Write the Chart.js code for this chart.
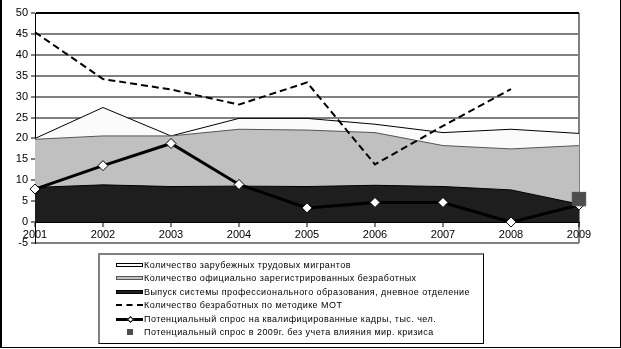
<!DOCTYPE html>
<html>
<head>
<meta charset="utf-8">
<script src="https://cdn.jsdelivr.net/npm/chart.js@4.4.0/dist/chart.umd.min.js"></script>
<style>
    body { margin: 0; background: #fff; font-family: "Liberation Sans", Arial, sans-serif; }
    #wrap { position: relative; width: 621px; height: 349px; }
    #frame { position: absolute; left: 0; top: 0; width: 618px; height: 347px;
             border-left: 2px solid #000; border-right: 1px solid #000; border-bottom: 1px solid #000; }
    #legend { position: absolute; left: 98px; top: 253px; width: 383px; height: 88px;
              border-left: 2px solid #808080; border-top: 2px solid #808080;
              border-right: 1px solid #000; border-bottom: 1px solid #000; }
    .item { position: absolute; left: 44px; height: 12px; font-size: 9px; letter-spacing: 0.45px;
            line-height: 12px; white-space: nowrap; color: #000; }
    .sw { position: absolute; left: -28px; top: 4px; width: 27px; height: 4px; box-sizing: border-box; }
    .txt { position: absolute; left: 0; top: 0; }
</style>
</head>
<body>
<div id="wrap">
    <canvas id="chart" width="621" height="349"></canvas>
    <div id="frame"></div>
    <div id="legend"></div>
</div>
<script>
const years = ['2001', '2002', '2003', '2004', '2005', '2006', '2007', '2008', '2009'];
const migrants = [20.0, 27.4, 20.6, 24.8, 24.8, 23.4, 21.4, 22.2, 21.2];
const registered = [19.8, 20.6, 20.6, 22.2, 22.0, 21.4, 18.3, 17.5, 18.3];
const graduates = [8.3, 8.9, 8.5, 8.6, 8.5, 8.8, 8.5, 7.7, 4.3];
const iloUnemployed = [45.4, 34.2, 31.7, 28.1, 33.4, 13.8, 23.0, 31.8, null];
const demand = [7.9, 13.5, 18.8, 9.0, 3.4, 4.7, 4.7, 0.0, 4.1];
const demandNoCrisis = [null, null, null, null, null, null, null, null, 5.5];

const labels = [
    'Количество зарубежных трудовых мигрантов',
    'Количество официально зарегистрированных безработных',
    'Выпуск системы профессионального образования, дневное отделение',
    'Количество безработных по методике МОТ',
    'Потенциальный спрос на квалифицированные кадры, тыс. чел.',
    'Потенциальный спрос в 2009г. без учета влияния мир. кризиса'
];

const font = { family: '"Liberation Sans", Arial, sans-serif', size: 11 };

new Chart(document.getElementById('chart'), {
    type: 'line',
    data: {
        labels: years,
        datasets: [
            {
                label: labels[0],
                data: migrants,
                fill: 'origin',
                backgroundColor: '#fbfbfb',
                borderColor: '#000',
                borderWidth: 1,
                pointRadius: 0,
                order: 6
            },
            {
                label: labels[1],
                data: registered,
                fill: 'origin',
                backgroundColor: '#c0c0c0',
                borderColor: '#555',
                borderWidth: 1,
                pointRadius: 0,
                order: 5
            },
            {
                label: labels[2],
                data: graduates,
                fill: 'origin',
                backgroundColor: '#1e1e1e',
                borderColor: '#000',
                borderWidth: 1,
                pointRadius: 0,
                order: 4
            },
            {
                label: labels[3],
                data: iloUnemployed,
                borderColor: '#000',
                borderWidth: 2,
                borderDash: [7, 4],
                pointRadius: 0,
                fill: false,
                order: 3
            },
            {
                label: labels[4],
                data: demand,
                borderColor: '#000',
                borderWidth: 3,
                pointStyle: 'rectRot',
                pointRadius: 5,
                pointBackgroundColor: '#fff',
                pointBorderColor: '#000',
                pointBorderWidth: 1,
                fill: false,
                order: 2
            },
            {
                label: labels[5],
                data: demandNoCrisis,
                showLine: false,
                pointStyle: 'rect',
                pointRadius: 9.5,
                pointBackgroundColor: '#4d4d4d',
                pointBorderColor: '#4d4d4d',
                order: 1
            }
        ]
    },
    options: {
        responsive: false,
        animation: false,
        layout: { padding: { left: 0, top: 13, right: 42, bottom: 106 } },
        plugins: {
            legend: { display: false },
            tooltip: { enabled: false }
        },
        scales: {
            x: {
                position: { y: 0 },
                offset: false,
                grid: {
                    color: ctx => ctx.index === years.length - 1 ? '#808080' : 'rgba(0,0,0,0)',
                    lineWidth: 2,
                    tickColor: '#000',
                    tickWidth: 1,
                    tickLength: 4
                },
                border: { display: true, color: '#000', width: 1 },
                ticks: { color: '#000', font: font, padding: 2, maxRotation: 0 }
            },
            y: {
                min: -5,
                max: 50,
                afterFit: scale => { scale.width = 35; },
                ticks: { stepSize: 5, color: '#000', font: font, padding: 3 },
                grid: {
                    color: ctx => ctx.tick.value === 50 ? '#000' : '#808080',
                    lineWidth: 2,
                    tickColor: '#000',
                    tickWidth: 1,
                    tickLength: 4
                },
                border: { display: true, color: '#000', width: 1 }
            }
        }
    }
});

// legend built as html, one entry per row like the original
const swatches = [
    'border:1px solid #000;background:#fbfbfb;',
    'border:1px solid #555;background:#c0c0c0;',
    'border:1px solid #000;background:#1e1e1e;',
    'height:2px;top:5px;border-top:2px dashed #000;',
    'height:3px;top:5px;background:#000;',
    ''
];
const legend = document.getElementById('legend');
const rowTops = [4, 17, 31, 44, 58, 71];
labels.forEach((text, i) => {
    const item = document.createElement('div');
    item.className = 'item';
    item.style.top = rowTops[i] + 'px';
    let sw = '<span class="sw" style="' + swatches[i] + '"></span>';
    if (i === 4) {
        sw += '<span style="position:absolute;left:-16px;top:4px;width:3px;height:3px;background:#fff;border:1px solid #000;transform:rotate(45deg);"></span>';
    }
    if (i === 5) {
        sw = '<span style="position:absolute;left:-17px;top:3px;width:6px;height:6px;background:#4d4d4d;"></span>';
    }
    item.innerHTML = sw + '<span class="txt">' + text + '</span>';
    legend.appendChild(item);
});
</script>
</body>
</html>
